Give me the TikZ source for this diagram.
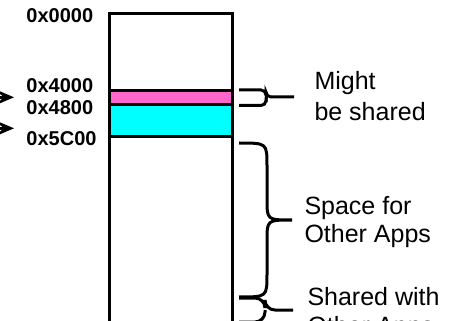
\documentclass[tikz,border=0pt]{standalone}
\usepackage{fontspec}
\setmainfont{Liberation Sans}
\usepackage{tikz}
\usetikzlibrary{arrows.meta}
\definecolor{libpink}{RGB}{255,102,204}
\definecolor{appcyan}{RGB}{0,255,255}

\begin{document}
\begin{tikzpicture}[x=1pt, y=-1pt, line width=3pt,
 seg/.style={draw, inner sep=0pt, outer sep=0pt, minimum width=122.5pt, anchor=north west},
 addr/.style={font=\fontsize{20}{24}\selectfont\bfseries, anchor=base west, inner sep=0pt},
 note/.style={align=left, anchor=north west, inner sep=0pt},
 curly/.style={rounded corners=#1}, curly/.default=20pt,
 ptr/.style={-{Stealth[length=20pt, width=17pt, inset=10pt]}}]
 \useasboundingbox (0,0) rectangle (456,321);
 \clip (0,0) rectangle (456,321);
 \node[seg, minimum height=77pt] (free) at (109.5,13.5){};
 \node[seg, fill=libpink, minimum height=14.5pt] (lib) at (free.south west){};
 \node[seg, fill=appcyan, minimum height=31.5pt] (app) at (lib.south west){};
 \node[seg, minimum height=210pt] (other) at (app.south west){};
 \node[addr] (a0) at (25,22.7){0x0000};
 \node[addr] (a1) at (25,92.7){0x4000};
 \node[addr] (a2) at (25,115){0x4800};
 \node[addr] (a3) at (25,145.7){0x5C00};
 \coordinate (libfrom) at (-30,97.3);
 \coordinate (libto) at (14,97.3);
 \coordinate (appfrom) at (-30,128.3);
 \coordinate (appto) at (14,128.3);
 \draw[ptr] (libfrom) -- (libto);
 \draw[ptr] (appfrom) -- (appto);
 \draw[curly=5pt] (239,90) -- (266,90) -- (266,97) -- (294,97);
 \draw[curly=5pt] (239,105.5) -- (266,105.5) -- (266,97);
 \draw (239,143) .. controls (267,143) .. (267,166) -- (267,199)
  .. controls (267,220) .. (292,220) .. controls (267,220) .. (267,241)
  -- (267,274) .. controls (267,297) .. (239,297);
 \draw[curly=10pt] (239,298) -- (265,298) -- (265,310) -- (293,310);
 \draw[curly=10pt] (239,322) -- (265,322) -- (265,310);
 \node[note, font=\fontsize{25}{31}\selectfont] (shared) at (313,70){Might\\be shared};
 \node[note, font=\fontsize{25}{28.4}\selectfont] (space) at (303,195){Space for\\Other Apps};
 \node[note, font=\fontsize{25}{29}\selectfont] (withapps) at (306,285.7){Shared with\\Other Apps};
\end{tikzpicture}
\end{document}
